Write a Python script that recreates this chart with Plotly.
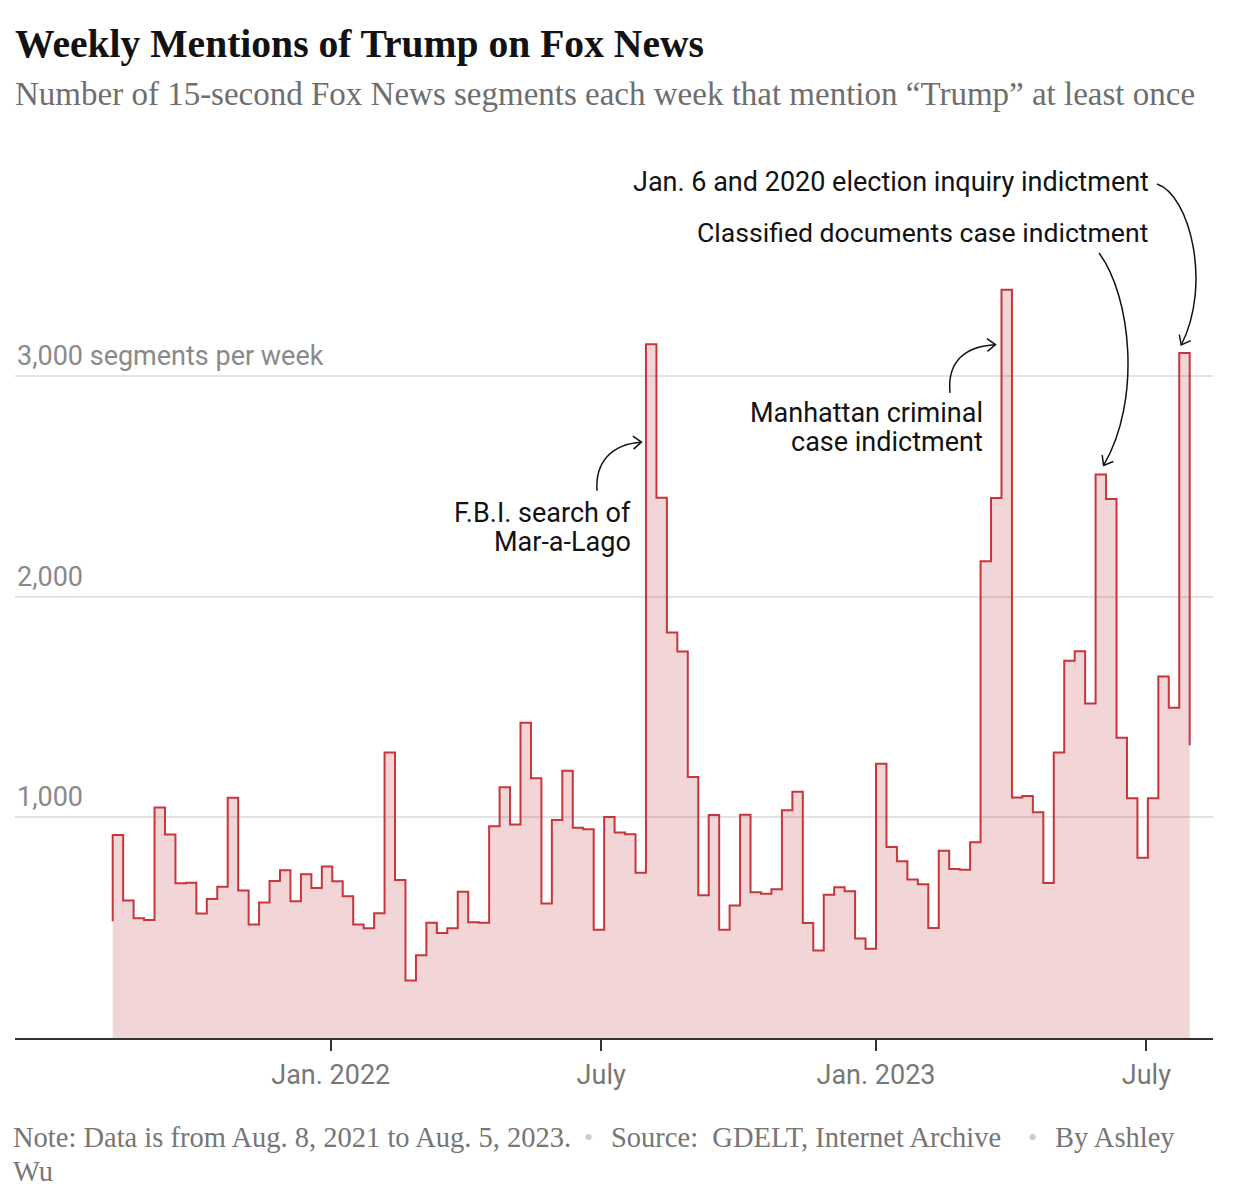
import math
import pandas as pd
import plotly.graph_objects as go

# ---------------- data ----------------
WEEK_START = pd.date_range("2021-08-08", periods=104, freq="7D")
SEGMENTS = [
    920, 623, 543, 535, 1045, 922, 701, 703, 564, 630,
    685, 1089, 668, 514, 614, 712, 760, 620, 742, 680,
    777, 710, 642, 514, 497, 565, 1294, 716, 260, 375,
    522, 476, 497, 663, 524, 522, 959, 1136, 967, 1429,
    1177, 610, 988, 1211, 953, 946, 491, 1002, 931, 923,
    749, 3144, 2448, 1837, 1751, 1183, 647, 1010, 490, 600,
    1012, 660, 654, 674, 1032, 1116, 521, 397, 649, 683,
    665, 451, 404, 1243, 866, 801, 718, 697, 499, 848,
    766, 762, 887, 2160, 2447, 3391, 1090, 1097, 1023, 702,
    1294, 1710, 1753, 1516, 2554, 2442, 1361, 1086, 817, 1086,
    1638, 1496, 3104, 1327,
]
PRIOR_WEEK = 529

Y_TICKS = [1000, 2000, 3000]
Y_TICK_LABELS = ["1,000", "2,000", "3,000 segments per week"]
X_TICKS = ["2022-01-01", "2022-07-01", "2023-01-01", "2023-07-01"]
X_TICK_LABELS = ["Jan. 2022", "July", "Jan. 2023", "July"]

EVENT_LABELS = [
    ["F.B.I. search of", "Mar-a-Lago"],
    ["Manhattan criminal", "case indictment"],
    ["Classified documents case indictment"],
    ["Jan. 6 and 2020 election inquiry indictment"],
]
EVENT_WEEK = [51, 85, 94, 102]

TITLE = "Weekly Mentions of Trump on Fox News"
SUBTITLE = "Number of 15-second Fox News segments each week that mention \u201cTrump\u201d at least once"
NOTE = "Note: Data is from Aug. 8, 2021 to Aug. 5, 2023."
SOURCE = "Source:\u00a0 GDELT, Internet Archive"
BYLINE = ["By Ashley", "Wu"]

# ---------------- layout constants (reference pixel space) ----------------
W, H = 1240, 1194
OFF = 8                      # page body margin of the html page
PLOT_L, PLOT_R, PLOT_T, PLOT_B = 15, 1213, 130, 1038.5
DATA_L_PX, DATA_R_PX = 112.7, 1189.7
PX_PER_UNIT = 0.2208

RED = "#c8363b"
PINK = "rgba(185,45,55,0.2)"
SANS = "Roboto, Arial, sans-serif"
SERIF = "Liberation Serif, Times New Roman, serif"

t0, t1 = WEEK_START[0], WEEK_START[-1]
n_days = (t1 - t0).days
px_per_day = (DATA_R_PX - DATA_L_PX) / n_days
x_range = [t0 - pd.Timedelta(days=(DATA_L_PX - PLOT_L) / px_per_day),
           t1 + pd.Timedelta(days=(PLOT_R - DATA_R_PX) / px_per_day)]
y_top = (PLOT_B - PLOT_T) / PX_PER_UNIT


def x_px(date):
    return DATA_L_PX + (pd.Timestamp(date) - t0).total_seconds() / 86400 * px_per_day


def y_px(v):
    return PLOT_B - v * PX_PER_UNIT


def px(xp):
    return (xp - PLOT_L) / (PLOT_R - PLOT_L)


def py(yp):
    return (PLOT_B - yp) / (PLOT_B - PLOT_T)


def P(pt):
    return f"{px(pt[0]):.5f},{py(pt[1]):.5f}"


fig = go.Figure()
fig.add_trace(go.Scatter(
    x=[t0] + list(WEEK_START),
    y=[PRIOR_WEEK] + SEGMENTS,
    mode="lines",
    line=dict(shape="hv", color=RED, width=2),
    fill="tozeroy",
    fillcolor=PINK,
    hoverinfo="skip",
    showlegend=False,
))

annotations = []
shapes = []


def text(x, y, s, font, xanchor="left", yanchor="middle"):
    annotations.append(dict(x=px(x), xref="paper", y=py(y), yref="paper",
                            xanchor=xanchor, yanchor=yanchor, text=s,
                            showarrow=False, font=font))


# y labels above grid lines
for v, txt in zip(Y_TICKS, Y_TICK_LABELS):
    annotations.append(dict(
        x=px(15), xref="paper", y=v, yref="y", xanchor="left", yanchor="bottom",
        yshift=2, text=txt, showarrow=False,
        font=dict(family=SANS, size=27, color="#8a8a8a"),
    ))

# title / subtitle
text(13, 44, f"<b>{TITLE}</b>", dict(family=SERIF, size=39.6, color="#121212"))
text(13, 94, SUBTITLE, dict(family=SERIF, size=33, color="#6e6e6e"))

# footer
foot_font = dict(family=SERIF, size=28.5, color="#767676")
dot_font = dict(family=SERIF, size=26, color="#cccccc")
text(11, 1138, NOTE, foot_font)
text(588, 1138, "\u2022", dot_font, xanchor="center")
text(609, 1138, SOURCE, foot_font)
text(1032, 1138, "\u2022", dot_font, xanchor="center")
text(1053, 1138, BYLINE[0], foot_font)
text(11, 1172, BYLINE[1], foot_font)

# event labels: right edge px, first line center y px
ev_font = dict(family=SANS, size=27, color="#121212")
label_pos = [(633, 513), (985, 413), (1150, 233), (1151, 182)]
LINE_GAP = 29.5
for (xr, yc), lines in zip(label_pos, EVENT_LABELS):
    size = 26.6 if len(lines[0]) == 36 else 27
    for j, ln in enumerate(lines):
        text(xr, yc + j * LINE_GAP, ln, dict(ev_font, size=size), xanchor="right")


# curved arrows, tips anchored to the peaks they point at
def tip_for(k, dx, dy):
    i = EVENT_WEEK[k]
    return (x_px(WEEK_START[i]) + dx, y_px(SEGMENTS[i]) + dy)


arrows = [
    # start, c1, c2, tip
    ((597, 491), (595, 462), (612, 444), tip_for(0, -4.5, 98)),
    ((950, 393), (947, 362), (965, 346), tip_for(1, -6, 55)),
    ((1099, 253), (1131, 296), (1142, 400), tip_for(2, 8, -9)),
    ((1157, 184), (1190, 195), (1212, 285), tip_for(3, 2, -8)),
]


def chevron(tip, frm, size=10.5, ang=38):
    dxv, dyv = tip[0] - frm[0], tip[1] - frm[1]
    L = math.hypot(dxv, dyv)
    ux, uy = dxv / L, dyv / L
    pts = []
    for s in (1, -1):
        a = math.radians(ang) * s
        rx = ux * math.cos(a) - uy * math.sin(a)
        ry = ux * math.sin(a) + uy * math.cos(a)
        pts.append((tip[0] - size * rx, tip[1] - size * ry))
    return pts


for s, c1, c2, tip in arrows:
    shapes.append(dict(type="path", xref="paper", yref="paper",
                       path=f"M {P(s)} C {P(c1)} {P(c2)} {P(tip)}",
                       line=dict(color="#121212", width=1.5)))
    a, b = chevron(tip, c2)
    shapes.append(dict(type="path", xref="paper", yref="paper",
                       path=f"M {P(a)} L {P(tip)} L {P(b)}",
                       line=dict(color="#121212", width=1.5)))

fig.update_layout(
    width=W - OFF, height=H - OFF,
    margin=dict(l=PLOT_L - OFF, r=W - PLOT_R, t=PLOT_T - OFF, b=H - PLOT_B),
    paper_bgcolor="white", plot_bgcolor="white",
    annotations=annotations, shapes=shapes,
    xaxis=dict(type="date", range=x_range, tickvals=X_TICKS, ticktext=X_TICK_LABELS,
               ticks="outside", ticklen=11, tickwidth=1.5, tickcolor="#333",
               showline=True, linecolor="#333", linewidth=1.5, showgrid=False,
               zeroline=False, ticklabelstandoff=1,
               tickfont=dict(family=SANS, size=27, color="#777777")),
    yaxis=dict(range=[0, y_top], tickvals=Y_TICKS, showticklabels=False,
               showgrid=True, gridcolor="#e4e4e4", gridwidth=2, zeroline=False,
               showline=False, ticks=""),
)

fig.write_html("out.html")
